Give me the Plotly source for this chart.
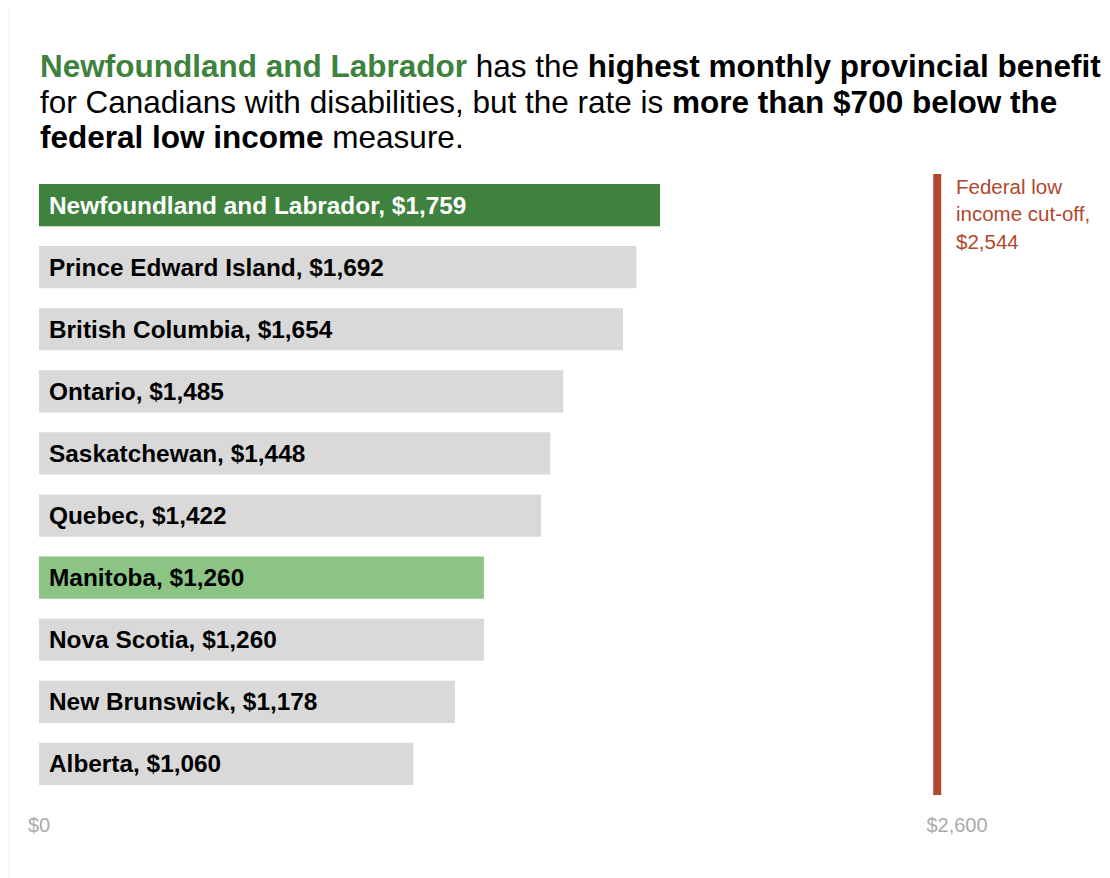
import plotly.graph_objects as go

provinces = ["Newfoundland and Labrador", "Prince Edward Island", "British Columbia", "Ontario",
             "Saskatchewan", "Quebec", "Manitoba", "Nova Scotia", "New Brunswick", "Alberta"]
benefits = [1759, 1692, 1654, 1485, 1448, 1422, 1260, 1260, 1178, 1060]
bar_colors = ["#3e823e", "#d9d9d9", "#d9d9d9", "#d9d9d9", "#d9d9d9", "#d9d9d9",
              "#8cc486", "#d9d9d9", "#d9d9d9", "#d9d9d9"]
label_colors = ["#ffffff"] + ["#000000"] * 9
cutoff = 2544
cutoff_lines = ["Federal low", "income cut-off,", f"${cutoff:,}"]
tick_vals = [0, 2600]
tick_text = ["$0", "$2,600"]

FONT = "Liberation Sans, Arial, Helvetica, sans-serif"
W, H = 1110, 878
L, R, T, B = 31, 161, 166, 91
plot_w = W - L - R

fig = go.Figure()
fig.add_trace(go.Bar(
    x=benefits, y=provinces, orientation="h",
    marker=dict(color=bar_colors, line=dict(width=0)),
    width=0.68, hoverinfo="skip",
))

for p, v, c in zip(provinces, benefits, label_colors):
    fig.add_annotation(x=0, y=p, xref="x", yref="y", text=f"<b>{p}, ${v:,}</b>",
                       showarrow=False, xanchor="left", xshift=8, yshift=0,
                       font=dict(family=FONT, size=24.4, color=c))

red = "#b1472d"
fig.add_shape(type="line", x0=cutoff, x1=cutoff, y0=0, y1=1, xref="x", yref="paper",
              line=dict(color=red, width=8))
for i, txt in enumerate(cutoff_lines):
    fig.add_annotation(x=cutoff, y=1, xref="x", yref="paper", yanchor="middle", xanchor="left",
                       xshift=17, yshift=(T + 8) - (186 + 27.5 * i), showarrow=False, align="left",
                       text=txt, font=dict(family=FONT, size=20.5, color=red))

green = "#3e823e"
title_lines = [
    f"<b><span style='color:{green}'>Newfoundland and Labrador</span></b> has the "
    "<b>highest monthly provincial benefit</b>",
    "for Canadians with disabilities, but the rate is <b>more than $700 below the</b>",
    "<b>federal low income</b> measure.",
]
title_centers = [65.5, 101.5, 136.5]  # page pixel y of line centres
for line, yc in zip(title_lines, title_centers):
    fig.add_annotation(x=0, y=1, xref="paper", yref="paper", xanchor="left", yanchor="middle",
                       xshift=-1, yshift=(T + 8) - yc, align="left", showarrow=False, text=line,
                       font=dict(family=FONT, size=31.5, color="#000000"))

gx = (1 - L) / plot_w
fig.add_shape(type="line", x0=gx, x1=gx, y0=-0.2, y1=1.4, xref="paper", yref="paper",
              line=dict(color="#eeeeee", width=1))

fig.update_layout(
    width=W, height=H,
    margin=dict(l=L, r=R, t=T, b=B),
    plot_bgcolor="white", paper_bgcolor="white",
    showlegend=False, bargap=0.32,
    xaxis=dict(range=[0, 2600], tickvals=tick_vals, ticktext=tick_text, showgrid=False,
               zeroline=False, showline=False, ticks="outside", ticklen=12, tickcolor="rgba(0,0,0,0)",
               tickfont=dict(family=FONT, size=20, color="#aaaaaa")),
    yaxis=dict(autorange="reversed", showticklabels=False, showgrid=False, zeroline=False,
               showline=False),
)
fig.write_html("out.html")
